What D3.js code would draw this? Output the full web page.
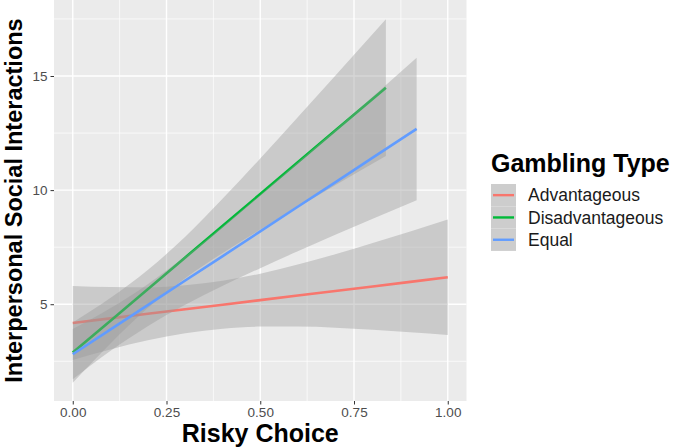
<!DOCTYPE html>
<html><head><meta charset="utf-8">
<script src="https://cdn.jsdelivr.net/npm/d3@7"></script>
<style>html,body{margin:0;padding:0;background:#fff;}svg{display:block;font-family:"Liberation Sans",Arial,sans-serif;}</style>
</head><body><svg id="c" width="680" height="447"></svg>
<script>
// ---- data ----
const categories = ["Advantageous", "Disadvantageous", "Equal"];
const colors = ["#F8766D", "#00BA38", "#619CFF"];

const advX     = [0, 0.1, 0.2, 0.3, 0.4, 0.5, 0.6, 0.7, 0.8, 0.9, 1.0];
const advFit   = [4.18, 4.38, 4.58, 4.78, 4.98, 5.18, 5.38, 5.58, 5.78, 5.98, 6.18];
const advLow   = [2.56, 3.02, 3.42, 3.73, 3.93, 4.02, 4.02, 3.97, 3.88, 3.77, 3.65];
const advHigh  = [5.80, 5.75, 5.74, 5.83, 6.03, 6.34, 6.74, 7.19, 7.68, 8.19, 8.71];

const disX     = [0, 0.1, 0.2, 0.3, 0.4, 0.5, 0.6, 0.7, 0.835];
const disFit   = [2.88, 4.27, 5.66, 7.05, 8.44, 9.83, 11.22, 12.61, 14.49];
const disLow   = [1.56, 3.27, 4.83, 6.14, 7.25, 8.27, 9.25, 10.21, 11.49];
const disHigh  = [4.20, 5.27, 6.50, 7.96, 9.63, 11.39, 13.19, 15.01, 17.49];

const eqX      = [0, 0.1, 0.2, 0.3, 0.4, 0.5, 0.6, 0.7, 0.8, 0.917];
const eqFit    = [2.81, 3.89, 4.96, 6.04, 7.11, 8.19, 9.27, 10.34, 11.42, 12.68];
const eqLow    = [1.71, 2.95, 4.04, 4.98, 5.81, 6.58, 7.32, 8.04, 8.75, 9.56];
const eqHigh   = [3.91, 4.82, 5.88, 7.10, 8.42, 9.80, 11.22, 12.64, 14.09, 15.80];

const xTicks = [0, 0.25, 0.5, 0.75, 1.0];
const xTickLabels = ["0.00", "0.25", "0.50", "0.75", "1.00"];
const xMinor = [0.125, 0.375, 0.625, 0.875];
const yTicks = [5, 10, 15];
const yMinor = [2.5, 7.5, 12.5, 17.5];

const xTitle = "Risky Choice";
const yTitle = "Interpersonal Social Interactions";
const legendTitle = "Gambling Type";

// ---- build ----
const series = [
  {name: categories[0], color: colors[0], x: advX, fit: advFit, lo: advLow, hi: advHigh},
  {name: categories[1], color: colors[1], x: disX, fit: disFit, lo: disLow, hi: disHigh},
  {name: categories[2], color: colors[2], x: eqX,  fit: eqFit,  lo: eqLow,  hi: eqHigh}
].map(s => ({...s, pts: s.x.map((v, i) => ({x: v, fit: s.fit[i], lo: s.lo[i], hi: s.hi[i]}))}));

const svg = d3.select("#c");
const P = {l: 54, r: 466.5, t: 0, b: 401};

const x = d3.scaleLinear().domain([-0.05, 1.05]).range([P.l, P.r]);
const y = d3.scaleLinear().domain([0.76, 18.33]).range([P.b, P.t]);

// panel
svg.append("rect").attr("x", P.l).attr("y", P.t).attr("width", P.r - P.l).attr("height", P.b - P.t).attr("fill", "#EBEBEB");

const grid = svg.append("g");
grid.selectAll(".xmin").data(xMinor).enter().append("line")
  .attr("x1", d => x(d)).attr("x2", d => x(d)).attr("y1", P.t).attr("y2", P.b)
  .attr("stroke", "#fff").attr("stroke-width", 0.7);
grid.selectAll(".ymin").data(yMinor).enter().append("line")
  .attr("y1", d => y(d)).attr("y2", d => y(d)).attr("x1", P.l).attr("x2", P.r)
  .attr("stroke", "#fff").attr("stroke-width", 0.7);
grid.selectAll(".xmaj").data(xTicks).enter().append("line")
  .attr("x1", d => x(d)).attr("x2", d => x(d)).attr("y1", P.t).attr("y2", P.b)
  .attr("stroke", "#fff").attr("stroke-width", 1.4);
grid.selectAll(".ymaj").data(yTicks).enter().append("line")
  .attr("y1", d => y(d)).attr("y2", d => y(d)).attr("x1", P.l).attr("x2", P.r)
  .attr("stroke", "#fff").attr("stroke-width", 1.4);

// smooths
const area = d3.area().x(d => x(d.x)).y0(d => y(d.lo)).y1(d => y(d.hi)).curve(d3.curveMonotoneX);
const line = d3.line().x(d => x(d.x)).y(d => y(d.fit));
series.forEach(s => {
  svg.append("path").datum(s.pts).attr("d", area).attr("fill", "#999999").attr("fill-opacity", 0.4);
  svg.append("path").datum(s.pts).attr("d", line).attr("fill", "none").attr("stroke", s.color).attr("stroke-width", 2.6);
});

// axes
const xAxis = svg.append("g").attr("transform", `translate(0,${P.b})`)
  .call(d3.axisBottom(x).tickValues(xTicks).tickFormat((d, i) => xTickLabels[i]).tickSize(3.5).tickPadding(3));
const yAxis = svg.append("g").attr("transform", `translate(${P.l},0)`)
  .call(d3.axisLeft(y).tickValues(yTicks).tickSize(3.5).tickPadding(3));
[xAxis, yAxis].forEach(a => {
  a.select(".domain").remove();
  a.selectAll(".tick line").attr("stroke", "#333333").attr("stroke-width", 1);
  a.selectAll(".tick text").attr("fill", "#4D4D4D").style("font-size", "13.5px").style("font-family", "Liberation Sans, Arial, sans-serif");
});

// titles
svg.append("text").attr("x", (P.l + P.r) / 2).attr("y", 442).attr("text-anchor", "middle")
  .style("font-size", "25px").style("font-weight", "bold").attr("fill", "#000").text(xTitle);
svg.append("text").attr("transform", `translate(22,${(P.t + P.b) / 2}) rotate(-90)`).attr("text-anchor", "middle")
  .style("font-size", "23.5px").style("font-weight", "bold").attr("fill", "#000").text(yTitle);

// legend
const lg = svg.append("g");
lg.append("text").attr("x", 491).attr("y", 172).style("font-size", "25px").style("font-weight", "bold").attr("fill", "#000").text(legendTitle);
const keyY0 = 184, keyH = 22.3;
series.forEach((s, i) => {
  const cy = keyY0 + keyH * i + keyH / 2;
  lg.append("rect").attr("x", 491).attr("y", keyY0 + keyH * i).attr("width", 25).attr("height", keyH).attr("fill", "#CDCDCD");
  lg.append("line").attr("x1", 493).attr("x2", 514).attr("y1", cy).attr("y2", cy).attr("stroke", s.color).attr("stroke-width", 2.4);
  lg.append("text").attr("x", 528).attr("y", cy).attr("dy", "0.35em").style("font-size", "17.5px").attr("fill", "#1a1a1a").text(s.name);
});
</script></body></html>
